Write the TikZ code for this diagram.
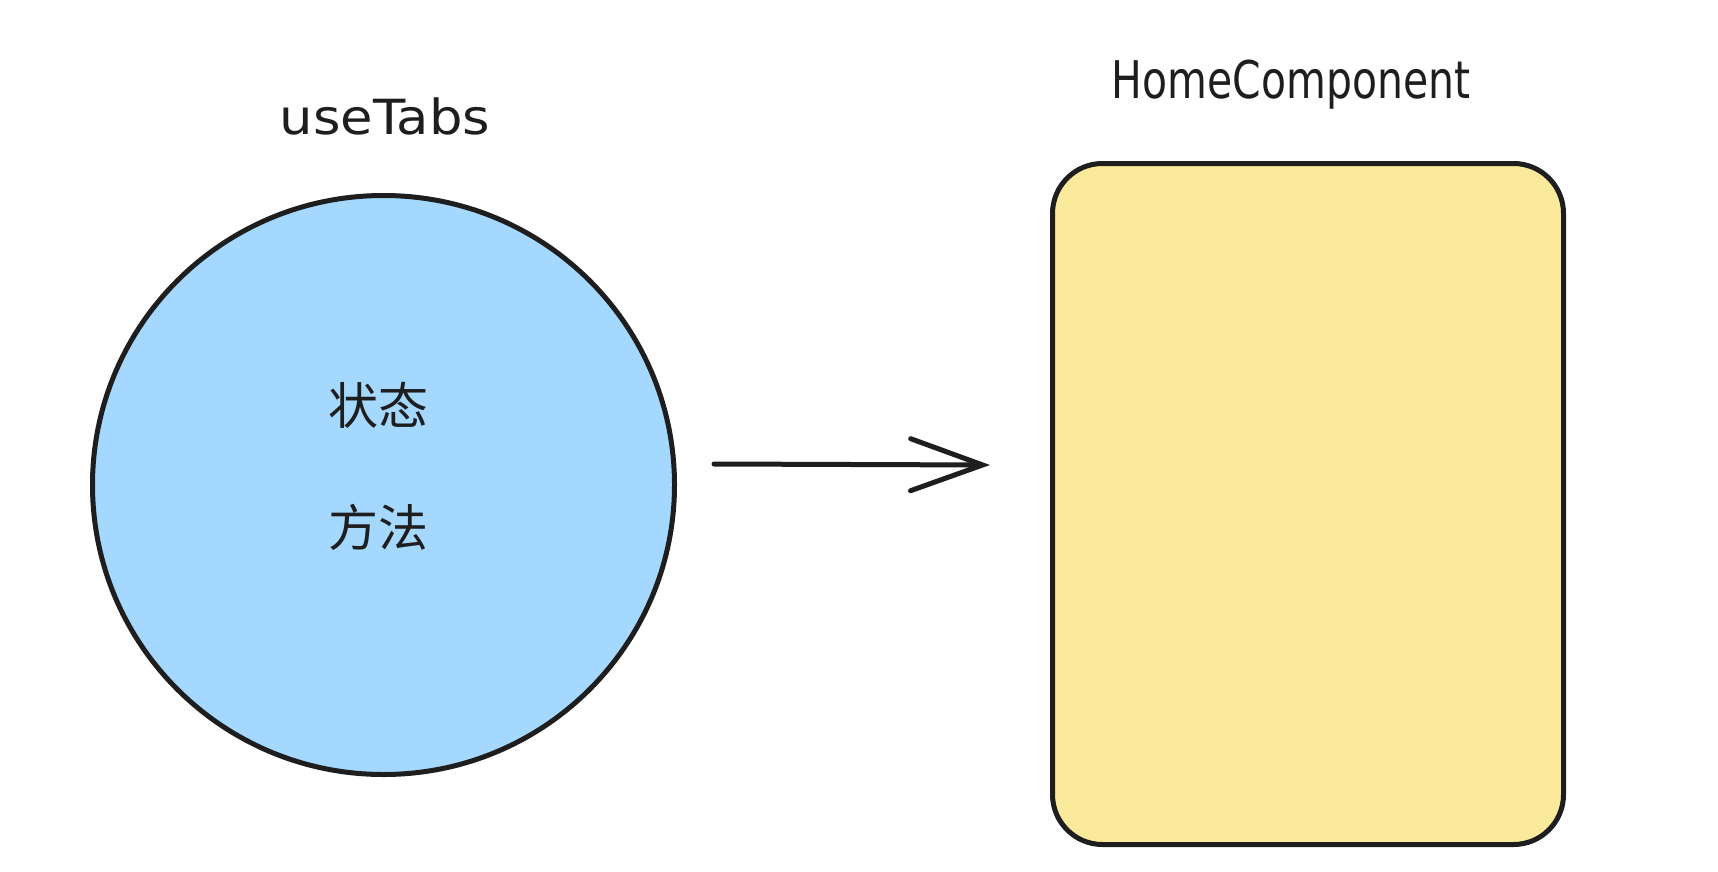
\documentclass[tikz,border=0pt]{standalone}
\usepackage{fontspec}
\setmainfont{DejaVu Sans}
\newfontfamily\cjk{Noto Sans CJK SC}
\usetikzlibrary{arrows.meta,shapes.geometric}
\definecolor{strokeblk}{HTML}{1E1E1E}
\definecolor{hookblue}{HTML}{A5D8FF}
\definecolor{compyellow}{HTML}{FBEA9B}
\tikzset{
  sketch/.style={draw=strokeblk, line width=5pt},
  title/.style={text=strokeblk, font=\fontsize{44}{50}\selectfont, anchor=base, inner sep=0pt},
  cjklabel/.style={text=strokeblk, font=\cjk\fontsize{50}{56}\selectfont, anchor=base, inner sep=0pt},
}
\begin{document}
\begin{tikzpicture}[x=1pt,y=-1pt]
\useasboundingbox[fill=white] (0,0) rectangle (1718,872);
\node[sketch, ellipse, fill=hookblue, minimum width=582pt, minimum height=579pt, inner sep=0pt] (hook) at (383.5,485) {};
\node[sketch, rectangle, rounded corners=50pt, fill=compyellow, minimum width=511pt, minimum height=681pt, inner sep=0pt] (comp) at (1308,504) {};
\node[title] (hooklabel) at (385,135) {\scalebox{1.2}[1.1]{useTabs}};
\node[title] (complabel) at (1291,99) {\scalebox{0.93}[1.18]{HomeComponent}};
\node[cjklabel] (state) at (378,424) {状态};
\node[cjklabel] (method) at (378,546) {方法};
\coordinate (arrowstart) at (714,464);
\coordinate (arrowend) at (990,465);
\draw[sketch, line cap=round, line join=round, -{Straight Barb[length=72pt, width=52pt, line cap=round]}] (arrowstart) -- (arrowend);
\end{tikzpicture}
\end{document}
